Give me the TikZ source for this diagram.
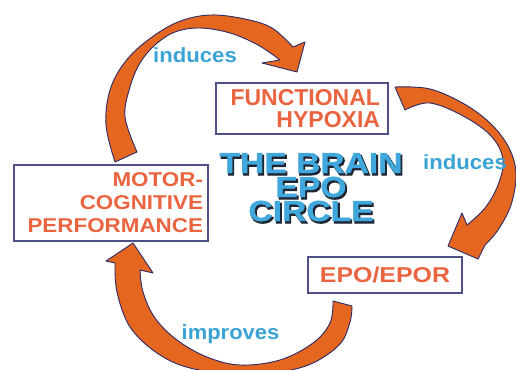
\documentclass[tikz,border=0pt]{standalone}
\usepackage{fontspec}
\setmainfont{Liberation Sans}
\newfontfamily\titlefont[FakeBold=1]{Liberation Sans Bold}
\newfontfamily\shadowfont[FakeBold=3.5]{Liberation Sans Bold}
\usepackage{graphicx}

\definecolor{arroworange}{HTML}{E4661F}
\definecolor{arrowline}{HTML}{2D2A6A}
\definecolor{boxline}{HTML}{505088}
\definecolor{coral}{HTML}{EB6440}
\definecolor{labelblue}{HTML}{3AA3D6}
\definecolor{titleblue}{HTML}{41A8DE}
\definecolor{titledark}{HTML}{1E2633}

\newcommand{\widen}[2]{\scalebox{#1}[1]{#2}}

\begin{document}
\begin{tikzpicture}[x=1pt,y=-1pt,
	box/.style={draw=boxline, line width=1.1pt, fill=white, inner ysep=2pt, text=coral},
	label/.style={font=\bfseries\fontsize{20.5}{22}\selectfont, text=labelblue, inner sep=0pt, anchor=base},
	titleline/.style={inner sep=0pt, anchor=base},
	bigarrow/.style={fill=arroworange, draw=arrowline, line width=.9pt, line join=round}]
		\useasboundingbox (0,0) rectangle (516,369);
		\fill[white] (0,0) rectangle (516,369);
		\clip (0,0) rectangle (516,369);

		% curved arrows
		\draw[bigarrow] plot[smooth, tension=.6] coordinates {(115,162) (106,125) (110,90) (125,62) (148,40) (178,22) (210,15) (245,19) (272,28) (293,47)}
			-- (305,42) -- (297,72) -- (262,63) -- (280,60)
			-- plot[smooth, tension=.6] coordinates {(280,60) (258,45) (230,33) (200,28) (175,32) (155,45) (140,63) (130,87) (125,117) (137,152)} -- cycle;
		\draw[bigarrow] plot[smooth, tension=.6] coordinates {(395,87) (430,89) (466,105) (493,126) (510,150) (516,175) (511,205) (498,230) (485,245)}
			-- (478,259) -- (448,246) -- (462,213) -- (467,225)
			-- plot[smooth, tension=.6] coordinates {(467,225) (485,208) (498,185) (503,160) (492,137) (465,117) (430,103) (405,110)} -- cycle;
		\draw[bigarrow] plot[smooth, tension=.6] coordinates {(352,306) (350,322) (340,344) (313,363) (280,372) (240,374) (190,368) (157,353) (130,327) (117,292) (115,263)}
			-- (106,261) -- (133,243) -- (153,273) -- (140,270)
			-- plot[smooth, tension=.6] coordinates {(140,270) (143,292) (155,318) (177,340) (207,357) (240,365) (280,360) (313,343) (330,323) (333,301)} -- cycle;

		% boxes
		\node[box, text width=156pt, inner xsep=8pt, minimum height=51pt, align=right, font=\bfseries\fontsize{23}{22}\selectfont] (hypoxia) at (302,108.5) {FUNCTIONAL\\HYPOXIA};
		\node[box, text width=184pt, inner xsep=5pt, minimum height=76pt, align=right, font=\bfseries\fontsize{20}{23}\selectfont] (motor) at (111,203)
			{\widen{1.12}{MOTOR-}\\\widen{1.12}{COGNITIVE}\\\widen{1.12}{PERFORMANCE}};
		\node[box, minimum width=154pt, minimum height=36pt, font=\bfseries\fontsize{21.5}{22}\selectfont] (epo) at (385,275) {\widen{1.16}{EPO/EPOR}};

		% title
		\foreach \txt/\yy [count=\i] in {THE BRAIN/173,EPO/197,CIRCLE/221}{
			\node[titleline, text=titledark, font=\shadowfont\fontsize{29}{29}\selectfont] (shadow\i) at (312.5,\yy+2) {\widen{1.16}{\txt}};
			\node[titleline, text=titleblue, font=\titlefont\fontsize{29}{29}\selectfont] (title\i) at (311,\yy) {\widen{1.16}{\txt}};
		}

		% labels
		\node[label] (induces1) at (195,63) {\widen{1.08}{induces}};
		\node[label] (induces2) at (465,169) {\widen{1.08}{induces}};
		\node[label] (improves) at (230.5,339) {\widen{1.07}{improves}};
	\end{tikzpicture}
\end{document}
